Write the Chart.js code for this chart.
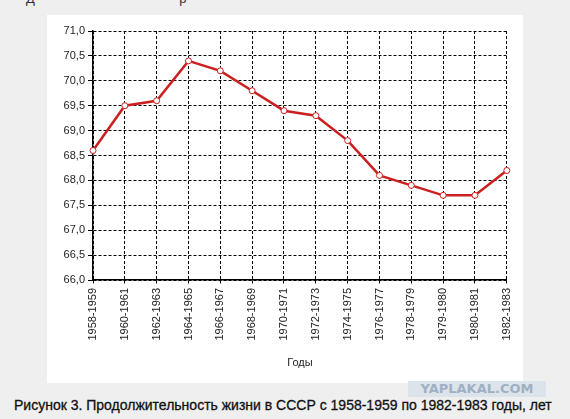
<!DOCTYPE html>
<html><head><meta charset="utf-8">
<script src="https://cdn.jsdelivr.net/npm/chart.js@4"></script>
<style>
body{margin:0;background:#efefef;width:570px;height:419px;position:relative;overflow:hidden;font-family:"Liberation Sans",Arial,sans-serif}
#panel{position:absolute;left:47px;top:15px;width:476px;height:368px;background:#fff}
#wm{position:absolute;left:408px;top:381px;width:138px;height:16px;background:#dde3ea;color:#9fb0c4;font:bold 13px "DejaVu Sans",sans-serif;text-align:center;line-height:16px}
#title{position:absolute;left:14px;top:397px;font-size:14px;color:#111;white-space:nowrap;-webkit-text-stroke:0.3px #111}
#top{position:absolute;left:26px;top:-9px;font-size:13px;color:#333;white-space:pre}
</style></head><body>
<div id="top">Д                                        р</div>
<div id="panel"><canvas id="c" width="476" height="368"></canvas></div>
<div id="wm">YAPLAKAL.COM</div>
<div id="title">Рисунок 3. Продолжительность жизни в СССР с 1958-1959 по 1982-1983 годы, лет</div>
<script>
var periods = ["1958-1959","1960-1961","1962-1963","1964-1965","1966-1967","1968-1969","1970-1971","1972-1973","1974-1975","1976-1977","1978-1979","1979-1980","1980-1981","1982-1983"];
var lifeExp = [68.6,69.5,69.6,70.4,70.2,69.8,69.4,69.3,68.8,68.1,67.9,67.7,67.7,68.2];
var font = {family:"Liberation Sans, Arial, sans-serif", size:11};
new Chart(document.getElementById("c"), {
  type: "line",
  data: {labels: periods, datasets: [{
    data: lifeExp, borderColor: "#cc1f1f", borderWidth: 2.5,
    pointRadius: 3, pointBackgroundColor: "#fff", pointBorderColor: "#cc1f1f", pointBorderWidth: 1,
    tension: 0
  }]},
  options: {
    responsive: false, animation: false,
    layout: {padding: {top: 16, right: 16, bottom: 9}},
    plugins: {legend: {display: false}, tooltip: {enabled: false}},
    scales: {
      x: {
        offset: false,
        grid: {color: "#000", tickLength: 5, tickColor: "#000", tickBorderDash: [3,2]},
        border: {color: "#000", width: 1.5, dash: [3,2]},
        ticks: {color: "#222", font: font, minRotation: 90, maxRotation: 90, autoSkip: false},
        title: {display: true, text: "Годы", color: "#222", font: font, padding: {top: 10}},
        afterFit: function (s) { s.height = 94; }
      },
      y: {
        min: 66, max: 71,
        grid: {color: "#000", tickLength: 5, tickColor: "#000"},
        border: {color: "#000", width: 1.5, dash: [3,2]},
        ticks: {stepSize: 0.5, color: "#222", font: font,
          callback: function (v) { return v.toFixed(1).replace(".", ","); }},
        afterFit: function (s) { s.width = 46; }
      }
    }
  }
});
</script></body></html>
